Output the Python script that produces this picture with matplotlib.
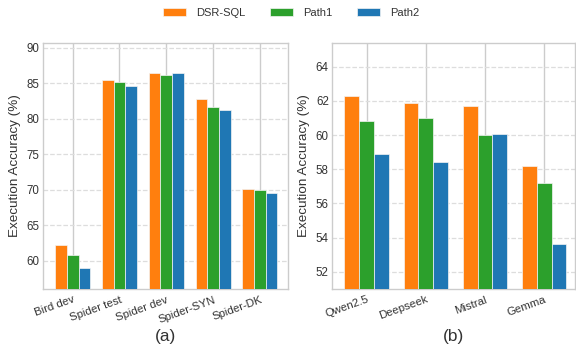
import numpy as np
import matplotlib
matplotlib.use('Agg')
import matplotlib.pyplot as plt

plt.rcParams['font.family'] = ['Liberation Sans', 'DejaVu Sans']

series = ['DSR-SQL', 'Path1', 'Path2']
colors = ['#ff7f0e', '#2ca02c', '#1f77b4']

# (a) datasets
cats_a = ['Bird dev', 'Spider test', 'Spider dev', 'Spider-SYN', 'Spider-DK']
dsr_a = [62.2, 85.5, 86.5, 82.8, 70.1]
path1_a = [60.8, 85.2, 86.1, 81.6, 69.9]
path2_a = [58.9, 84.6, 86.5, 81.2, 69.5]

# (b) backbone models
cats_b = ['Qwen2.5', 'Deepseek', 'Mistral', 'Gemma']
dsr_b = [62.3, 61.9, 61.7, 58.2]
path1_b = [60.8, 61.0, 59.98, 57.2]
path2_b = [58.9, 58.4, 60.04, 53.65]

fig = plt.figure(figsize=(5.76, 3.5), dpi=100)
ax1 = fig.add_axes([42.7/576, 1-289/350, (288-42.7)/576, (289-42.7)/350])
ax2 = fig.add_axes([332.3/576, 1-289/350, (575-332.3)/576, (289-42.7)/350])

w = 0.25
txt = '#333333'

def draw(ax, cats, vals, ylim, xlim, yticks, label):
    x = np.arange(len(cats))
    for i, (v, c, n) in enumerate(zip(vals, colors, series)):
        ax.bar(x + (i-1)*w, v, w, color=c, label=n, edgecolor='#f4f4f4', linewidth=0.5, zorder=3)
    ax.set_xticks(x)
    ax.set_xticklabels(cats, rotation=20, ha='right', rotation_mode='anchor', color=txt, fontsize=8.2)
    ax.set_yticks(yticks)
    ax.tick_params(axis='y', labelsize=8.3, colors=txt, length=0, pad=2.5)
    ax.tick_params(axis='x', length=0, pad=4)
    ax.set_ylim(*ylim)
    ax.set_xlim(*xlim)
    ax.grid(axis='x', color='#cccccc', linewidth=1.0, zorder=0)
    ax.grid(axis='y', color='#dddddd', linestyle='--', linewidth=0.9, zorder=0)
    ax.set_axisbelow(True)
    for s in ax.spines.values():
        s.set_color('#cccccc')
        s.set_linewidth(1.0)
    ax.set_ylabel('Execution Accuracy (%)', fontsize=9.7, color=txt, labelpad=4)
    # sub-figure label under the axes
    pos = ax.get_position()
    fig.text((pos.x0 + pos.x1)/2, 1-337/350, label, ha='center', va='center',
             fontsize=12.4, color=txt)

draw(ax1, cats_a, [dsr_a, path1_a, path2_a], (56, 90.7), (-0.64, 4.6), [60, 65, 70, 75, 80, 85, 90], '(a)')
draw(ax2, cats_b, [dsr_b, path1_b, path2_b], (51, 65.4), (-0.58, 3.52), [52, 54, 56, 58, 60, 62, 64], '(b)')

h, l = ax1.get_legend_handles_labels()
fig.legend(h, l, loc='center', bbox_to_anchor=(0.505, 1-13/350), ncol=3, frameon=False,
           fontsize=8, labelcolor=txt, handlelength=2.1, handleheight=0.65,
           handletextpad=0.9, columnspacing=2.2)

fig.savefig('out.png', dpi=100)
